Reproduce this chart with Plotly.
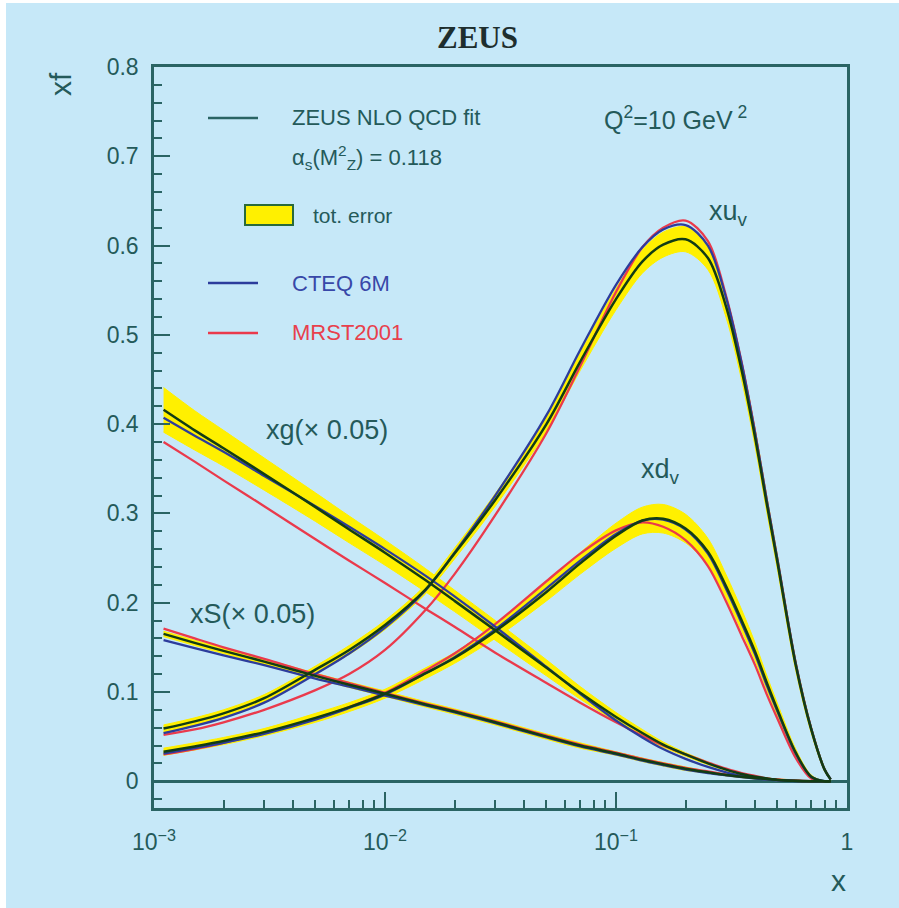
import plotly.graph_objects as go

# ---------------- data ----------------
x_vals = [0.0011, 0.0015, 0.002, 0.003, 0.005, 0.007, 0.01, 0.015, 0.02, 0.03,
          0.05, 0.07, 0.1, 0.13, 0.16, 0.2, 0.25, 0.3, 0.35, 0.4,
          0.45, 0.5, 0.6, 0.7, 0.8, 0.85]

# xu_v
uv_zeus = [0.059, 0.067, 0.076, 0.093, 0.125, 0.147, 0.175, 0.215, 0.255, 0.315,
           0.400, 0.470, 0.540, 0.582, 0.601, 0.607, 0.586, 0.531, 0.460, 0.385,
           0.310, 0.245, 0.130, 0.058, 0.013, 0.002]
uv_hi = [0.063, 0.071, 0.080, 0.097, 0.129, 0.152, 0.180, 0.220, 0.261, 0.322,
         0.408, 0.480, 0.552, 0.595, 0.615, 0.621, 0.599, 0.543, 0.471, 0.395,
         0.319, 0.253, 0.136, 0.062, 0.015, 0.003]
uv_lo = [0.055, 0.063, 0.072, 0.089, 0.121, 0.142, 0.170, 0.210, 0.249, 0.308,
         0.392, 0.460, 0.528, 0.569, 0.587, 0.593, 0.573, 0.519, 0.449, 0.375,
         0.301, 0.237, 0.124, 0.054, 0.011, 0.001]
uv_cteq = [0.054, 0.062, 0.071, 0.088, 0.120, 0.143, 0.172, 0.214, 0.256, 0.320,
           0.410, 0.483, 0.556, 0.598, 0.618, 0.623, 0.600, 0.541, 0.468, 0.390,
           0.314, 0.248, 0.132, 0.059, 0.013, 0.002]
uv_mrst = [0.052, 0.058, 0.066, 0.080, 0.102, 0.120, 0.147, 0.192, 0.232, 0.298,
           0.390, 0.465, 0.548, 0.598, 0.620, 0.628, 0.605, 0.543, 0.469, 0.391,
           0.314, 0.248, 0.132, 0.059, 0.013, 0.002]

# xd_v
dv_zeus = [0.033, 0.039, 0.045, 0.055, 0.071, 0.083, 0.098, 0.121, 0.138, 0.168,
           0.212, 0.244, 0.275, 0.292, 0.294, 0.283, 0.257, 0.218, 0.180, 0.145,
           0.110, 0.080, 0.032, 0.005, 0.0, 0.0]
dv_hi = [0.037, 0.043, 0.049, 0.059, 0.076, 0.088, 0.103, 0.127, 0.144, 0.176,
         0.222, 0.256, 0.289, 0.307, 0.310, 0.299, 0.272, 0.231, 0.192, 0.155,
         0.118, 0.087, 0.036, 0.007, 0.0, 0.0]
dv_lo = [0.029, 0.035, 0.041, 0.051, 0.066, 0.078, 0.093, 0.115, 0.132, 0.160,
         0.202, 0.232, 0.261, 0.277, 0.278, 0.267, 0.242, 0.205, 0.168, 0.135,
         0.102, 0.073, 0.028, 0.003, 0.0, 0.0]
dv_cteq = [0.031, 0.037, 0.043, 0.053, 0.069, 0.082, 0.097, 0.121, 0.139, 0.170,
           0.216, 0.247, 0.277, 0.292, 0.293, 0.282, 0.255, 0.215, 0.177, 0.142,
           0.107, 0.078, 0.031, 0.005, 0.0, 0.0]
dv_mrst = [0.030, 0.036, 0.043, 0.054, 0.070, 0.083, 0.099, 0.124, 0.143, 0.176,
           0.224, 0.255, 0.281, 0.290, 0.285, 0.270, 0.241, 0.201, 0.163, 0.130,
           0.097, 0.070, 0.026, 0.003, 0.0, 0.0]

# xg (x 0.05)
g_zeus = [0.416, 0.393, 0.373, 0.344, 0.307, 0.282, 0.256, 0.225, 0.202, 0.169,
          0.127, 0.099, 0.072, 0.054, 0.041, 0.030, 0.020, 0.013, 0.008, 0.005,
          0.003, 0.0015, 0.0003, 0.0, 0.0, 0.0]
g_hi = [0.441, 0.415, 0.393, 0.362, 0.323, 0.297, 0.270, 0.238, 0.214, 0.180,
        0.136, 0.106, 0.077, 0.058, 0.044, 0.032, 0.0215, 0.014, 0.0088, 0.0055,
        0.0033, 0.0017, 0.0003, 0.0, 0.0, 0.0]
g_lo = [0.391, 0.371, 0.353, 0.326, 0.291, 0.267, 0.242, 0.212, 0.190, 0.158,
        0.118, 0.092, 0.067, 0.050, 0.038, 0.028, 0.0185, 0.012, 0.0072, 0.0045,
        0.0027, 0.0013, 0.0003, 0.0, 0.0, 0.0]
g_cteq = [0.407, 0.387, 0.369, 0.342, 0.308, 0.285, 0.260, 0.230, 0.207, 0.173,
          0.128, 0.098, 0.068, 0.049, 0.036, 0.025, 0.016, 0.010, 0.006, 0.004,
          0.002, 0.001, 0.0002, 0.0, 0.0, 0.0]
g_mrst = [0.380, 0.358, 0.337, 0.308, 0.271, 0.247, 0.222, 0.193, 0.173, 0.144,
          0.110, 0.088, 0.066, 0.051, 0.040, 0.030, 0.021, 0.014, 0.009, 0.006,
          0.003, 0.0017, 0.0004, 0.0, 0.0, 0.0]

# xS (x 0.05)
s_zeus = [0.165, 0.155, 0.146, 0.134, 0.118, 0.108, 0.098, 0.086, 0.078, 0.066,
          0.050, 0.040, 0.031, 0.024, 0.019, 0.014, 0.010, 0.007, 0.005, 0.0035,
          0.0025, 0.0015, 0.0005, 0.0, 0.0, 0.0]
s_hi = [0.168, 0.158, 0.149, 0.137, 0.121, 0.111, 0.101, 0.089, 0.081, 0.069,
        0.053, 0.043, 0.033, 0.026, 0.021, 0.016, 0.011, 0.008, 0.006, 0.0045,
        0.0035, 0.0025, 0.0015, 0.0, 0.0, 0.0]
s_lo = [0.162, 0.152, 0.143, 0.131, 0.115, 0.105, 0.095, 0.083, 0.075, 0.063,
        0.047, 0.037, 0.029, 0.022, 0.017, 0.012, 0.009, 0.006, 0.004, 0.0025,
        0.0015, 0.0005, 0.0, 0.0, 0.0, 0.0]
s_cteq = [0.158, 0.149, 0.141, 0.130, 0.115, 0.106, 0.096, 0.085, 0.077, 0.065,
          0.049, 0.039, 0.030, 0.023, 0.018, 0.013, 0.009, 0.0065, 0.0045, 0.003,
          0.002, 0.0012, 0.0004, 0.0, 0.0, 0.0]
s_mrst = [0.171, 0.160, 0.150, 0.137, 0.120, 0.110, 0.099, 0.087, 0.079, 0.067,
          0.051, 0.041, 0.032, 0.025, 0.020, 0.015, 0.011, 0.0075, 0.0055, 0.004,
          0.0028, 0.0018, 0.0006, 0.0, 0.0, 0.0]

x_tickvals = [0.001, 0.01, 0.1, 1]
x_ticktext = ["10<sup>\u22123</sup>", "10<sup>\u22122</sup>", "10<sup>\u22121</sup>", "1"]
x_minor = [m * d for d in (0.001, 0.01, 0.1) for m in range(2, 10)]
y_tickvals = [0, 0.1, 0.2, 0.3, 0.4, 0.5, 0.6, 0.7, 0.8]
y_ticktext = ["0", "0.1", "0.2", "0.3", "0.4", "0.5", "0.6", "0.7", "0.8"]

# ---------------- styling ----------------
BG = "#c6e8f8"
TEAL = "#2a6464"
TXT = "#245a5a"
YEL = "#fff000"
ZCOL = "#123c14"
BLUE = "#2c3c9c"
RED = "#ea3a4c"
FONT = "Liberation Sans, Arial, sans-serif"
SM = 0.9

fig = go.Figure()

bands = [(uv_lo, uv_hi), (dv_lo, dv_hi), (g_lo, g_hi), (s_lo, s_hi)]
for lo, hi in bands:
    fig.add_trace(go.Scatter(x=x_vals, y=lo, mode="lines",
                             line=dict(color=YEL, width=1, shape="spline", smoothing=SM),
                             showlegend=False, hoverinfo="skip"))
    fig.add_trace(go.Scatter(x=x_vals, y=hi, mode="lines", fill="tonexty",
                             fillcolor=YEL,
                             line=dict(color=YEL, width=1, shape="spline", smoothing=SM),
                             showlegend=False, hoverinfo="skip"))

for series in (uv_mrst, dv_mrst, g_mrst, s_mrst):
    fig.add_trace(go.Scatter(x=x_vals, y=series, mode="lines",
                             line=dict(color=RED, width=2.3, shape="spline", smoothing=SM),
                             showlegend=False))
for series in (uv_cteq, dv_cteq, g_cteq, s_cteq):
    fig.add_trace(go.Scatter(x=x_vals, y=series, mode="lines",
                             line=dict(color=BLUE, width=2.3, shape="spline", smoothing=SM),
                             showlegend=False))
for series in (uv_zeus, dv_zeus, g_zeus, s_zeus):
    fig.add_trace(go.Scatter(x=x_vals, y=series, mode="lines",
                             line=dict(color=ZCOL, width=2.5, shape="spline", smoothing=SM),
                             showlegend=False))

# plot-area geometry in page pixels (body margin removed below)
FW, FH = 899, 908
L, R, T, B = 154, 847, 67, 808
W, H = R - L, B - T


def px(xp):
    return (xp - L) / W


def py(yp):
    return (B - yp) / H


shapes = [
    # thin white page border at left and top, as in the reference
    dict(type="rect", xref="paper", yref="paper", x0=px(0), x1=px(6), y0=py(FH), y1=py(0),
         fillcolor="white", line=dict(width=0), layer="below"),
    dict(type="rect", xref="paper", yref="paper", x0=px(0), x1=px(FW), y0=py(3), y1=py(0),
         fillcolor="white", line=dict(width=0), layer="below"),
    # legend marks
    dict(type="line", xref="paper", yref="paper", x0=px(208), x1=px(258), y0=py(118), y1=py(118),
         line=dict(color=TEAL, width=2.5)),
    dict(type="rect", xref="paper", yref="paper", x0=px(245), x1=px(293), y0=py(225), y1=py(205),
         fillcolor=YEL, line=dict(color="#2a6a3a", width=2)),
    dict(type="line", xref="paper", yref="paper", x0=px(208), x1=px(258), y0=py(283), y1=py(283),
         line=dict(color=BLUE, width=2.5)),
    dict(type="line", xref="paper", yref="paper", x0=px(208), x1=px(258), y0=py(333), y1=py(333),
         line=dict(color=RED, width=2.5)),
]


def ann(text, xp, yp, size, color=TXT, xanchor="left", family=FONT, angle=0):
    return dict(text=text, xref="paper", yref="paper", x=px(xp), y=py(yp),
                xanchor=xanchor, yanchor="middle", showarrow=False, textangle=angle,
                font=dict(family=family, size=size, color=color))


annotations = [
    ann("<b>ZEUS</b>", 477, 38, 31, color="#1e2e2e", xanchor="center",
        family="Liberation Serif, Times New Roman, serif"),
    ann("ZEUS NLO QCD fit", 290, 118, 22),
    ann("\u03b1<sub>s</sub>(M<sup>2</sup><sub>Z</sub>) = 0.118", 290, 157, 22),
    ann("tot. error", 311, 215, 21),
    ann("CTEQ 6M", 290, 283, 22, color="#3848a8"),
    ann("MRST2001", 290, 333, 22, color="#e8404c"),
    ann("Q<sup>2</sup>=10 GeV<sup> 2</sup>", 602, 118, 25),
    ann("xu<sub>v</sub>", 707, 213, 27),
    ann("xd<sub>v</sub>", 639, 471, 27),
    ann("xg(\u00d7 0.05)", 264, 430, 27),
    ann("xS(\u00d7 0.05)", 188, 614, 27),
    ann("xf", 60, 84, 30, xanchor="center", angle=-90),
    ann("x", 838, 880, 30, xanchor="center"),
]

fig.update_layout(
    width=FW, height=FH,
    margin=dict(l=L, r=FW - R, t=T, b=FH - B),
    paper_bgcolor=BG,
    plot_bgcolor=BG,
    showlegend=False,
    shapes=shapes,
    annotations=annotations,
    font=dict(family=FONT, color=TXT),
)

fig.update_xaxes(
    type="log", range=[-3, 0],
    tickvals=x_tickvals, ticktext=x_ticktext,
    ticks="inside", ticklen=16, tickwidth=2, tickcolor=TEAL,
    minor=dict(tickvals=x_minor, ticks="inside", ticklen=8, tickwidth=2, tickcolor=TEAL),
    showgrid=False, zeroline=False,
    showline=True, mirror=True, linecolor=TEAL, linewidth=2.5,
    tickfont=dict(family=FONT, size=23, color=TXT),
    ticklabelstandoff=12,
)
fig.update_yaxes(
    range=[-0.03, 0.8],
    tickvals=y_tickvals, ticktext=y_ticktext,
    ticks="inside", ticklen=16, tickwidth=2, tickcolor=TEAL,
    minor=dict(dtick=0.02, tick0=0, ticks="inside", ticklen=8, tickwidth=2, tickcolor=TEAL),
    showgrid=False,
    zeroline=True, zerolinecolor=TEAL, zerolinewidth=2.5,
    showline=True, mirror=True, linecolor=TEAL, linewidth=2.5,
    tickfont=dict(family=FONT, size=23, color=TXT),
    ticklabelstandoff=8,
)

fig.write_html(
    "out.html",
    config={"displayModeBar": False},
    post_script="document.body.style.margin='0';document.body.style.overflow='hidden';",
)
